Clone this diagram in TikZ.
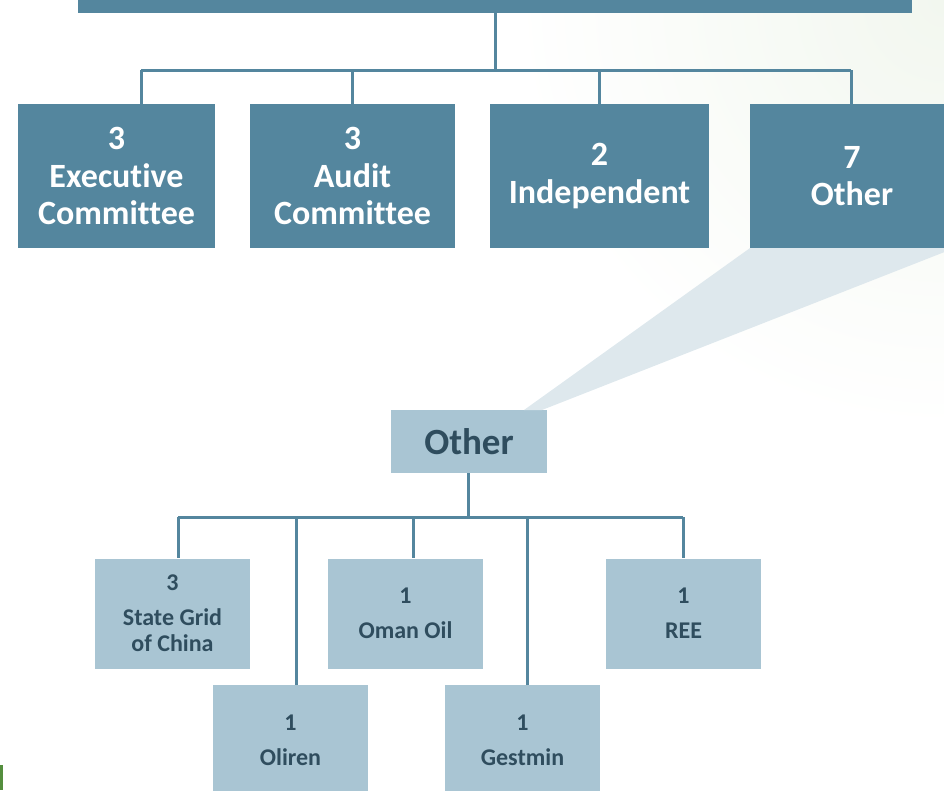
\documentclass[tikz,border=0pt]{standalone}
\usepackage{fontspec}
\setmainfont{Carlito}[Ligatures=NoCommon]
\definecolor{boardblue}{RGB}{84,134,158}
\definecolor{paleblue}{RGB}{169,197,211}
\definecolor{inkblue}{RGB}{47,77,94}
\definecolor{calloutblue}{RGB}{222,232,237}
\definecolor{bgtint}{RGB}{242,247,239}
\definecolor{leafgreen}{RGB}{84,142,62}
\begin{document}
\begin{tikzpicture}[x=1pt,y=-1pt,
    topbox/.style={fill=boardblue, text=white, inner sep=0pt, align=center,
        font=\bfseries\fontsize{34}{37.5}\selectfont},
    subbox/.style={fill=paleblue, text=inkblue, inner sep=0pt, align=center,
        minimum width=155, minimum height=110,
        font=\bfseries\fontsize{24}{26}\selectfont},
    link/.style={draw=boardblue, line width=3}]
            \useasboundingbox (0,0) rectangle (944,790);
            % background
            \begin{scope}
                \clip (0,0) rectangle (944,790);
                \shade[inner color=bgtint, outer color=white] (944,0) circle (430);
            \end{scope}
            \fill[leafgreen] (0,765) rectangle (3,790);

            % board
            \node[topbox, minimum width=834, minimum height=40, anchor=south west] (board) at (78,13) {};

            % committees
            \node[topbox, minimum width=197, minimum height=144] (exe) at (116.5,176) {3\\Executive\\Committee};
            \node[topbox, minimum width=205, minimum height=144] (aud) at (352.5,176) {3\\Audit\\Committee};
            \node[topbox, minimum width=219, minimum height=144] (ind) at (599.5,176) {2\\Independent};

            % callout
            \node[subbox, minimum width=156, minimum height=63,
                font=\bfseries\fontsize{37}{40}\selectfont] (sub) at (469,441.5) {Other};
            \coordinate (tipa) at (524,410);
            \coordinate (tipb) at (542,410);
            \node[topbox, minimum width=204, minimum height=144] (oth) at (852,176) {7\\Other};
            \fill[calloutblue] (oth.south west) -- (oth.south east) -- (tipb) -- (tipa) -- cycle;
            \node[topbox, minimum width=204, minimum height=144] at (oth) {7\\Other};

            \coordinate (hub) at (495,70);
            \draw[link] (board.south -| hub) -- (hub);
            \coordinate (bus1) at (141,70);
            \coordinate (bus2) at (352,70);
            \coordinate (bus3) at (599,70);
            \coordinate (bus4) at (851,70);
            \draw[link] (bus1) -- (bus4);
            \foreach \n [count=\i] in {exe,aud,ind,oth}{
                \draw[link] (bus\i) -- (bus\i |- \n.north);
            }

            % other breakdown
            \foreach \name/\x/\y/\txt in
            {sgc/172.5/613.5/{3\\[9pt]State Grid\\of China},
             oli/290.5/740/{1\\[9pt]Oliren},
             oma/405.5/613.5/{1\\[9pt]Oman Oil},
             ges/522.5/740/{1\\[9pt]Gestmin},
             ree/683.5/613.5/{1\\[9pt]REE}}{
                \node[subbox] (\name) at (\x,\y) {\txt};
            }
            \coordinate (lowhub) at (468,517);
            \draw[link] (sub.south -| lowhub) -- (lowhub);
            \coordinate (drop1) at (178,517);
            \coordinate (drop2) at (296,517);
            \coordinate (drop3) at (413,517);
            \coordinate (drop4) at (527,517);
            \coordinate (drop5) at (683,517);
            \draw[link] (drop1) -- (drop5);
            \foreach \n [count=\i] in {sgc,oli,oma,ges,ree}{
                \draw[link] (drop\i) -- (drop\i |- \n.north);
            }
        \end{tikzpicture}
\end{document}
